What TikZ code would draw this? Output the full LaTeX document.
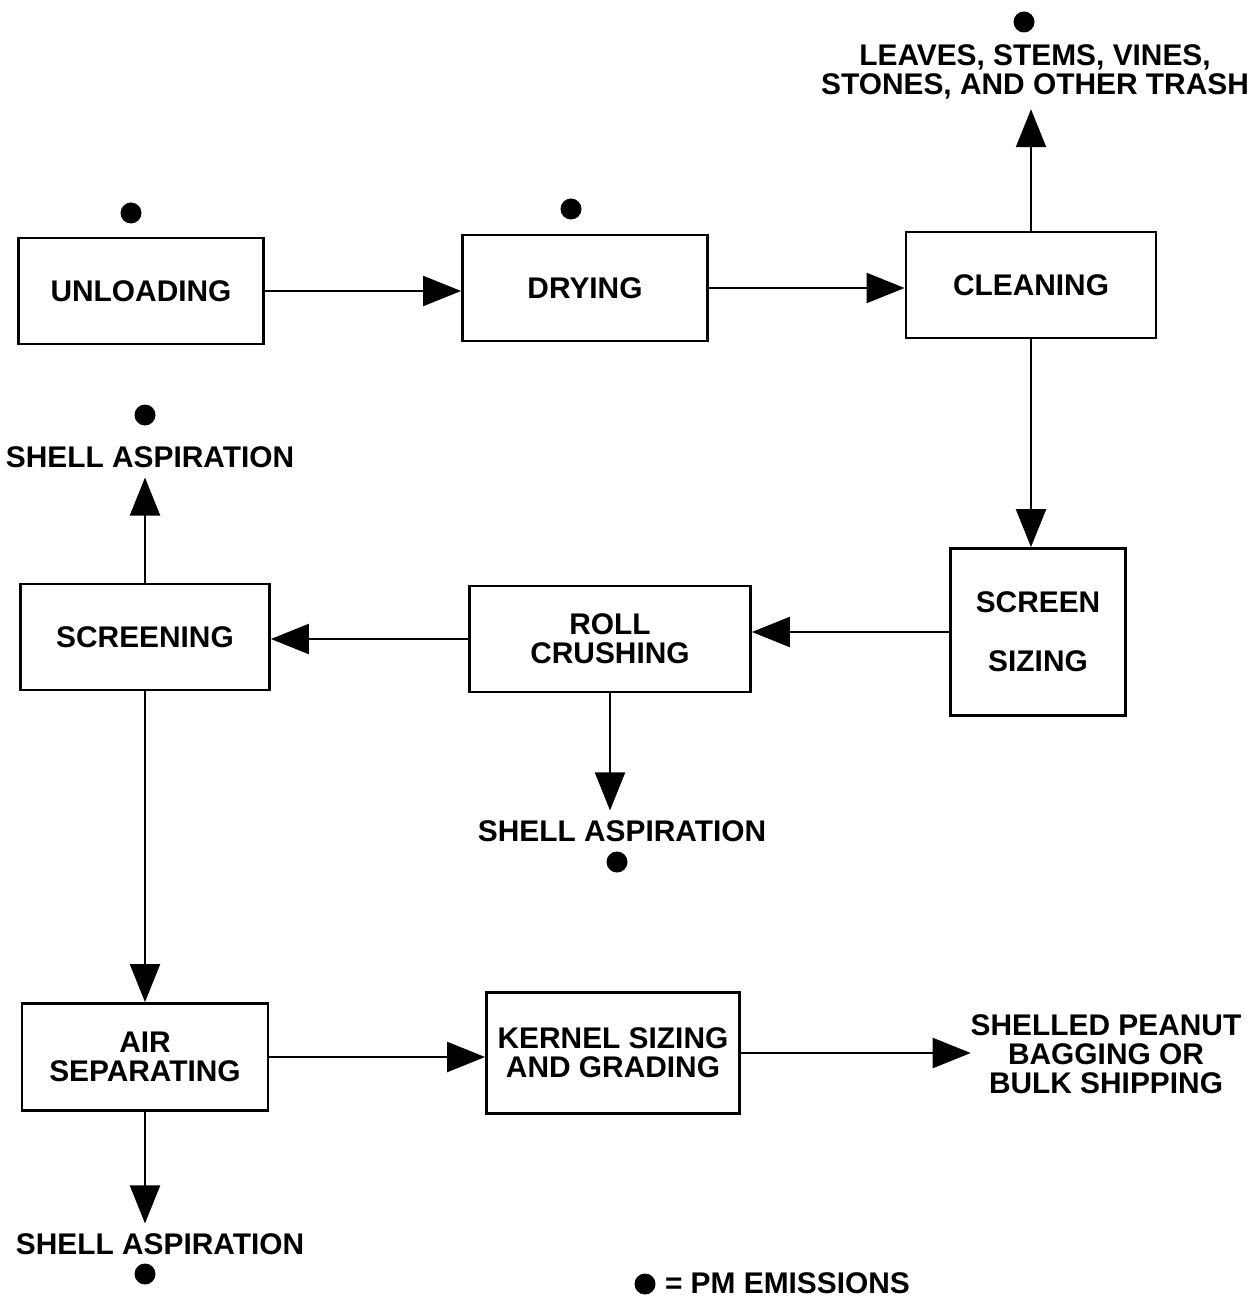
\documentclass[tikz,border=0pt]{standalone}
\usepackage{fontspec}
\setmainfont{Liberation Sans}
\usepackage{tikz}
\usetikzlibrary{arrows.meta, positioning, calc}
\tikzstyle{process} = [rectangle, draw=black, line width=1.6pt, minimum width=4.9cm, minimum height=2.12cm, align=center, inner sep=2pt]
\tikzstyle{arrow} = [line width=1.3pt, -{Triangle[length=0.76cm,width=0.6cm]}]
\tikzstyle{pm} = [circle, fill=black, inner sep=0pt, minimum size=0.42cm]
\tikzstyle{outlet} = [align=center, inner sep=0pt, outer sep=0.2cm]

\begin{document}
\begin{tikzpicture}[font=\fontsize{17}{16.5}\selectfont\bfseries]
\useasboundingbox (0,0) rectangle (25.1,-25.96);

% main process boxes
\node[process] (unloading) at (2.82,-5.82) {UNLOADING};
\node[process] (drying) at (11.7,-5.76) {DRYING};
\node[process, minimum width=5cm] (cleaning) at (20.62,-5.7) {CLEANING};
\node[process, minimum width=3.5cm, minimum height=3.34cm] (sizing) at (20.76,-12.64) {SCREEN\\[0.6cm]SIZING};
\node[process, minimum width=5.62cm] (rolling) at (12.2,-12.78) {ROLL\\CRUSHING};
\node[process, minimum width=4.98cm] (screening) at (2.9,-12.74) {SCREENING};
\node[process, minimum width=4.92cm, minimum height=2.14cm] (airsep) at (2.9,-21.14) {AIR\\SEPARATING};
\node[process, minimum width=5.06cm, minimum height=2.42cm] (kernel) at (12.26,-21.06) {KERNEL SIZING\\AND GRADING};

% outlets
\node[outlet] (trash) at (20.7,-1.44) {LEAVES, STEMS, VINES,\\STONES, AND OTHER TRASH};
\node[outlet] (asp1) at (3.0,-9.14) {SHELL ASPIRATION};
\node[outlet] (asp2) at (12.44,-16.62) {SHELL ASPIRATION};
\node[outlet] (asp3) at (3.2,-24.88) {SHELL ASPIRATION};
\node[outlet, outer sep=0pt] (shipping) at (22.12,-21.08) {SHELLED PEANUT\\BAGGING OR\\BULK SHIPPING};

% PM emission points
\node[pm] (pmunload) at (2.62,-4.26) {};
\node[pm] (pmdry) at (11.42,-4.18) {};
\node[pm] (pmtrash) at (20.48,-0.44) {};
\node[pm] (pmasp1) at (2.9,-8.3) {};
\node[pm] (pmasp2) at (12.34,-17.24) {};
\node[pm] (pmasp3) at (2.9,-25.48) {};

% legend
\node[pm] (pmkey) at (12.9,-25.68) {};
\node[outlet, outer sep=0pt, anchor=west] (legend) at (13.3,-25.66) {= PM EMISSIONS};

% flow
\draw[arrow] (unloading.east) -- (unloading.east -| drying.west);
\draw[arrow] (drying.east) -- (drying.east -| cleaning.west);
\draw[arrow] (cleaning.north) -- (cleaning.north |- trash.south);
\draw[arrow] (cleaning.south) -- (cleaning.south |- sizing.north);
\draw[arrow] (sizing.west) -- (sizing.west -| rolling.east);
\draw[arrow] (rolling.west) -- (rolling.west -| screening.east);
\draw[arrow] (screening.north) -- (screening.north |- asp1.south);
\draw[arrow] (rolling.south) -- (rolling.south |- asp2.north);
\draw[arrow] (screening.south) -- (airsep.north);
\draw[arrow] (airsep.east) -- (airsep.east -| kernel.west);
\draw[arrow] (kernel.east) -- (kernel.east -| shipping.west);
\draw[arrow] (airsep.south) -- (airsep.south |- asp3.north);
\end{tikzpicture}
\end{document}
